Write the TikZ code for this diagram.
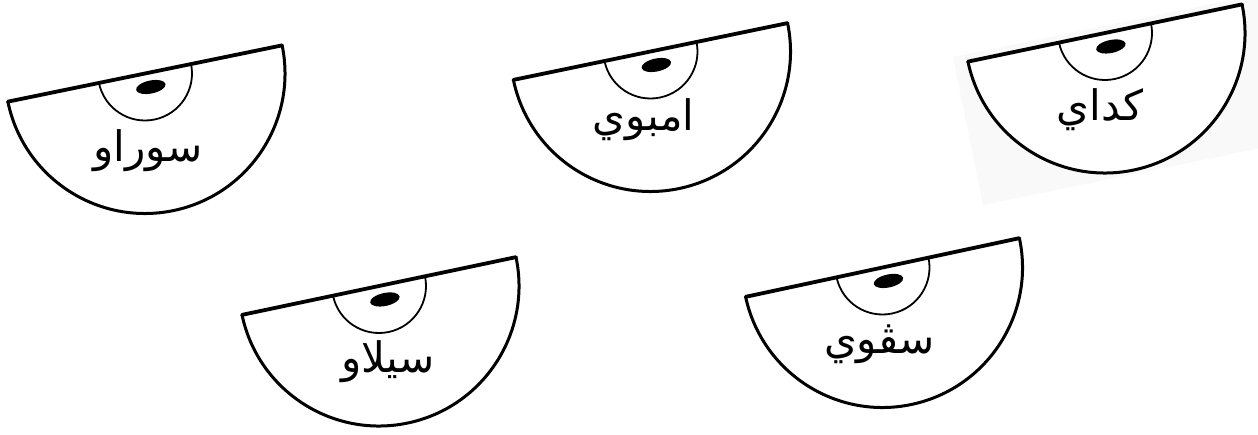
\documentclass[tikz,border=0pt]{standalone}
\usepackage{fontspec}
\usetikzlibrary{calc}
\newfontfamily\arabicfont[Script=Arabic]{DejaVu Sans}
\TeXXeTstate=1
\tikzset{
  disc/.style={fill=white},
  discedge/.style={line width=3pt, line join=round},
  discdiam/.style={line width=3.8pt, line cap=round},
  hubarc/.style={line width=1.8pt},
  hubdot/.style={fill=black},
  label/.style={font=\arabicfont\fontsize{42}{48}\selectfont, inner sep=0pt}
}
\newcommand{\cddisc}[7]{% name, x, y, angle, text, text dx, text dy
  \begin{scope}[shift={(#2,#3)}, rotate=#4]
    \fill[disc] (0:140) arc[start angle=0, end angle=-180, radius=140] -- cycle;
    \draw[discedge] (0:140) arc[start angle=0, end angle=-180, radius=140];
    \draw[discdiam] (180:140) -- (0:140);
    \draw[hubarc] (0:47) arc[start angle=0, end angle=-180, radius=47];
    \fill[hubdot] (3,-14.4) ellipse[x radius=15, y radius=6.5];
  \end{scope}
  \node[label] (#1) at ($(#2,#3)+(#6,#7)$) {\beginR #5\endR};
}
\begin{document}
\begin{tikzpicture}[x=1pt, y=1pt]
  \useasboundingbox (0,0) rectangle (1258,434);
  \fill[white] (0,0) rectangle (1258,434);
  % faint backing sheet behind the third disc
  \fill[black!2.5] (953,377) -- (983,229) -- (1300,294) -- (1270,442) -- cycle;
  \cddisc{surau}{145}{360.5}{11.6}{سوراو}{3}{-77}
  \cddisc{ambuy}{650.5}{382.5}{11.7}{امبوي}{-7}{-68}
  \cddisc{kedai}{1105}{401}{11.8}{كداي}{-5}{-77}
  \cddisc{silau}{379}{148}{11.9}{سيلاو}{9}{-76}
  \cddisc{sepui}{882.5}{166.5}{12.1}{سڤوي}{-3}{-77}
\end{tikzpicture}
\end{document}
